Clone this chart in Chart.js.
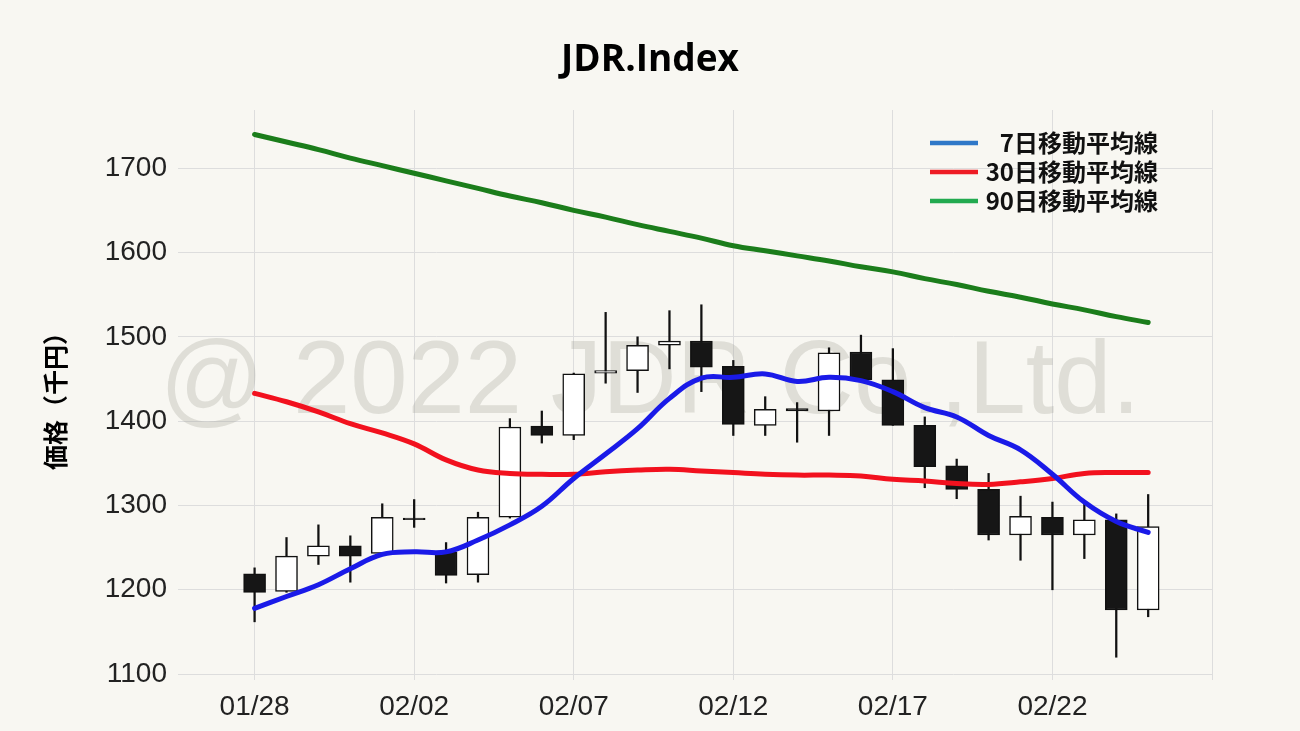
<!DOCTYPE html>
<html>
<head>
<meta charset="utf-8">
<script src="https://cdn.jsdelivr.net/npm/chart.js@4.4.1/dist/chart.umd.min.js"></script>
<style>
  html, body { margin: 0; padding: 0; background: #f8f7f2; }
  #wrap { width: 1300px; height: 731px; }
</style>
</head>
<body>
<div id="wrap"><canvas id="c" width="1300" height="731"></canvas></div>
<script>
const dates = ['01/28','01/29','01/30','01/31','02/01','02/02','02/03','02/04','02/05','02/06',
  '02/07','02/08','02/09','02/10','02/11','02/12','02/13','02/14','02/15','02/16',
  '02/17','02/18','02/19','02/20','02/21','02/22','02/23','02/24','02/25'];
const openP  = [1219,1198,1240,1252,1243,1285,1245,1218,1286,1394,1383,1457,1460,1490,1495,1465,1395,1415,1412,1482,1449,1395,1347,1319,1265,1286,1265,1283,1176];
const closeP = [1197,1240,1252,1240,1286,1283,1217,1286,1393,1383,1456,1460,1490,1495,1464,1396,1414,1412,1481,1449,1395,1346,1319,1265,1287,1265,1283,1176,1275];
const highP  = [1226,1262,1277,1264,1302,1307,1256,1292,1403,1412,1457,1529,1500,1531,1538,1472,1429,1422,1487,1502,1486,1405,1355,1338,1311,1304,1303,1290,1313];
const lowP   = [1162,1197,1230,1209,1243,1274,1208,1209,1285,1374,1378,1445,1434,1462,1435,1383,1383,1375,1383,1449,1395,1321,1308,1259,1235,1200,1237,1120,1168];
const ma7  = [1178,1192,1206,1225,1242,1245,1245,1259,1277,1299,1332,1361,1391,1427,1451,1452,1456,1447,1452,1448,1435,1416,1405,1383,1366,1337,1304,1281,1268];
const ma30 = [1433,1423,1411,1397,1386,1373,1354,1342,1338,1337,1337,1340,1342,1343,1341,1339,1337,1336,1336,1335,1331,1329,1326,1325,1328,1332,1338,1339,1339];
const ma90 = [1740,1731,1722,1712,1703,1694,1685,1676,1667,1659,1650,1642,1633,1625,1617,1608,1602,1596,1590,1583,1577,1569,1562,1554,1547,1539,1532,1524,1517];
const tickDays = [0,5,10,15,20,25,30];
const yTicks = [1100,1200,1300,1400,1500,1600,1700];
const legendItems = [
  {label: '7日移動平均線', color: '#2f78c8'},
  {label: '30日移動平均線', color: '#ee1c25'},
  {label: '90日移動平均線', color: '#22aa50'}
];
const titleText = 'JDR.Index';
const yTitle = '価格（千円）';
const watermark = '@ 2022 JDR Co.,Ltd.';

const bg = '#f8f7f2';
const bgPlugin = {
  id: 'bg',
  beforeDraw(chart) {
    const ctx = chart.ctx;
    ctx.save();
    ctx.fillStyle = bg;
    ctx.fillRect(0, 0, chart.width, chart.height);
    ctx.font = 'bold 37px "Open Sans", "Noto Sans", sans-serif';
    ctx.fillStyle = '#000';
    ctx.textAlign = 'center';
    ctx.textBaseline = 'middle';
    ctx.fillText(titleText, 650, 60);
    ctx.restore();
  },
  beforeDatasetsDraw(chart) {
    const ctx = chart.ctx;
    ctx.save();
    ctx.font = '103px "Liberation Sans", Arial, sans-serif';
    ctx.fillStyle = 'rgba(150,150,140,0.26)';
    ctx.textAlign = 'center';
    ctx.textBaseline = 'middle';
    ctx.fillText(watermark, 650, 385);
    ctx.restore();
  },
  afterDraw(chart) {
    const ctx = chart.ctx;
    ctx.save();
    ctx.font = 'bold 24px "Noto Sans CJK JP", sans-serif';
    ctx.textAlign = 'right';
    ctx.textBaseline = 'middle';
    legendItems.forEach((it, i) => {
      const y = 143 + i * 29;
      ctx.strokeStyle = it.color;
      ctx.lineWidth = 4.5;
      ctx.beginPath();
      ctx.moveTo(930, y);
      ctx.lineTo(978, y);
      ctx.stroke();
      ctx.fillStyle = '#111';
      ctx.fillText(it.label, 1158, y);
    });
    ctx.restore();
  }
};

const bodies = dates.map((d, i) => ({x: i, y: [openP[i], closeP[i]]}));
const wicks = dates.map((d, i) => ({x: i, y: [lowP[i], highP[i]]}));
const lineData = arr => arr.map((v, i) => ({x: i, y: v}));

new Chart(document.getElementById('c'), {
  data: {
    datasets: [
      {type: 'line', data: lineData(ma7), borderColor: '#1a1ae8', borderWidth: 5, tension: 0.4, pointRadius: 0, order: 0, borderCapStyle: 'round'},
      {type: 'line', data: lineData(ma30), borderColor: '#f2111e', borderWidth: 5, tension: 0.4, pointRadius: 0, order: 0, borderCapStyle: 'round'},
      {type: 'line', data: lineData(ma90), borderColor: '#1b7d1b', borderWidth: 5, tension: 0.4, pointRadius: 0, order: 0, borderCapStyle: 'round'},
      {type: 'bar', data: bodies, grouped: false, barThickness: 22, borderWidth: 1.5, borderColor: '#111', borderSkipped: false,
        backgroundColor: ctx => { const i = ctx.dataIndex; return closeP[i] >= openP[i] ? '#ffffff' : '#161616'; }, order: 1},
      {type: 'bar', data: wicks, grouped: false, barThickness: 1.6, borderWidth: 0, backgroundColor: '#111', order: 2}
    ]
  },
  options: {
    responsive: false,
    animation: false,
    devicePixelRatio: 1,
    layout: {padding: {left: 0, right: 88, top: 110, bottom: 0}},
    plugins: {
      legend: {display: false},
      tooltip: {enabled: false},
      title: {display: false}
    },
    scales: {
      x: {
        type: 'linear', min: -2.4, max: 30, offset: false,
        afterBuildTicks: s => { s.ticks = tickDays.map(v => ({value: v})); },
        afterFit: s => { s.height = 51; },
        ticks: {
          callback: v => dates[v] !== undefined ? dates[v] : '',
          color: '#222', padding: 10, maxRotation: 0, autoSkip: false,
          font: {family: '"Liberation Sans", Arial, sans-serif', size: 28}
        },
        grid: {color: '#dddddd', lineWidth: 1, drawTicks: false, offset: false},
        border: {display: false}
      },
      y: {
        type: 'linear', min: 1093, max: 1769,
        afterBuildTicks: s => { s.ticks = yTicks.map(v => ({value: v})); },
        afterFit: s => { s.width = 178; },
        ticks: {
          callback: v => String(v),
          color: '#222', padding: 11,
          font: {family: '"Liberation Sans", Arial, sans-serif', size: 28}
        },
        grid: {color: '#dddddd', lineWidth: 1, drawTicks: false},
        border: {display: false},
        title: {
          display: true, text: yTitle, color: '#000',
          font: {family: '"Noto Sans CJK JP", sans-serif', size: 25, weight: 'bold', lineHeight: 1.2},
          padding: {top: 40, bottom: 0}
        }
      }
    }
  },
  plugins: [bgPlugin]
});
</script>
</body>
</html>
